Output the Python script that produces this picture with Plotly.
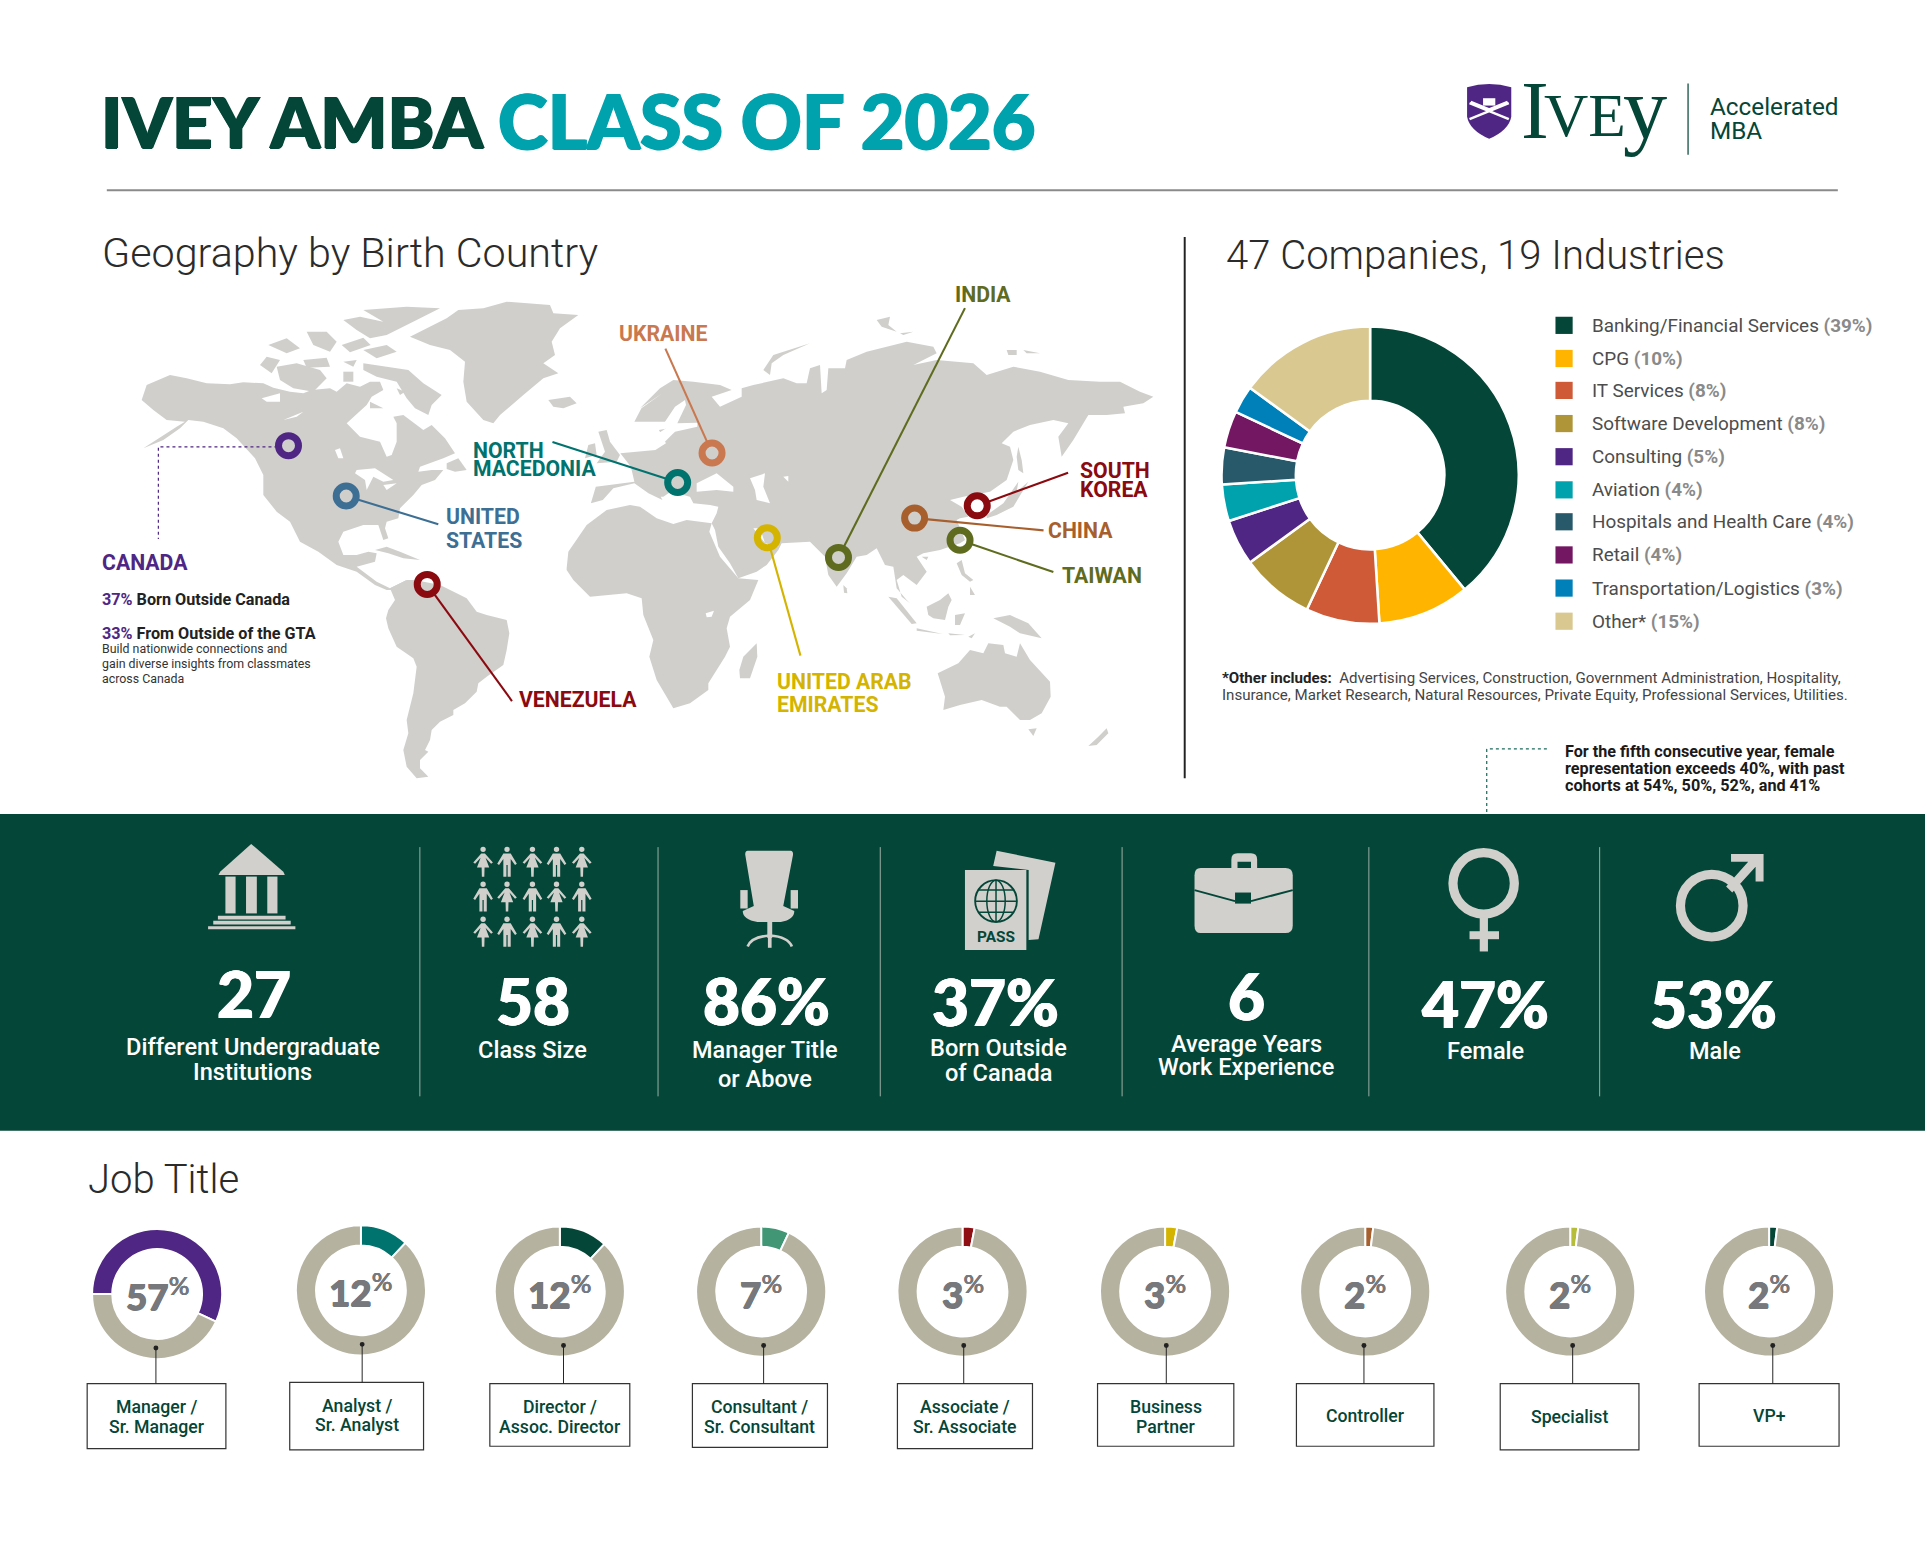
import plotly.graph_objects as go

# --- page is laid out in a 1568 x 1256 grid, scaled up to the real size ---
W, H = 1568, 1256
K = 1925 / 1568

GREEN = "#044637"
TEAL = "#00a3ad"
PURPLE = "#4f2683"
ICON = "#d1d0cc"
LAND = "#d0cfcc"

# --- DATA ---
industry_names = ["Banking/Financial Services", "CPG", "IT Services", "Software Development", "Consulting",
                  "Aviation", "Hospitals and Health Care", "Retail", "Transportation/Logistics", "Other*"]
industry_values = [39, 10, 8, 8, 5, 4, 4, 4, 3, 15]
industry_colors = ["#044637", "#ffb500", "#cf5a38", "#b09538", "#4f2683",
                   "#00a3ad", "#27596b", "#741763", "#0080b8", "#dac891"]

job_titles = [["Manager /", "Sr. Manager"], ["Analyst /", "Sr. Analyst"], ["Director /", "Assoc. Director"],
              ["Consultant /", "Sr. Consultant"], ["Associate /", "Sr. Associate"], ["Business", "Partner"],
              ["Controller"], ["Specialist"], ["VP+"]]
job_values = [57, 12, 12, 7, 3, 3, 2, 2, 2]
job_colors = ["#4f2683", "#00736e", "#044637", "#409675", "#8f0e14", "#d4b400", "#a85f2e", "#b5bd3a", "#044637"]
job_rest = "#b5b2a0"

stat_values = ["27", "58", "86%", "37%", "6", "47%", "53%"]
stat_labels = [["Different Undergraduate", "Institutions"], ["Class Size"], ["Manager Title", "or Above"],
               ["Born Outside", "of Canada"], ["Average Years", "Work Experience"], ["Female"], ["Male"]]

countries = ["CANADA", "UNITED STATES", "VENEZUELA", "NORTH MACEDONIA", "UKRAINE",
             "UNITED ARAB EMIRATES", "INDIA", "CHINA", "SOUTH KOREA", "TAIWAN"]
country_colors = ["#4f2683", "#3d6f94", "#8b0a10", "#00736e", "#c9784f",
                  "#d4b400", "#5f6b1e", "#a85f2e", "#8b0a10", "#5f6b1e"]


def crop(ox, oy, pts):
    return [((ox + a / 3) / K, (oy + b / 3) / K) for a, b in pts]


def za(pts):
    return crop(130, 295, pts)


def zb(pts):
    return crop(360, 560, pts)


def zc(pts):
    return crop(640, 300, pts)


def zd(pts):
    return crop(640, 500, pts)


def z1(pts):
    return [((80 + a / 1.425) / K, (280 + b / 3) / K) for a, b in pts]


north_america = za([(35,315),(50,270),(120,240),(170,250),(230,265),(300,268),(340,262),(400,265),(430,278),(480,290),(520,295),
                    (545,285),(600,280),(620,290),(650,265),(690,275),(720,260),(750,260),(760,285),(725,305),(710,330),(650,385),
                    (690,425),(750,440),(770,485),(785,480),(800,440),(800,385),(790,365),(820,360),(880,405),(905,390),(945,430),
                    (975,475),(940,490),(870,515),(865,530),(905,525),(940,525),(915,555),(875,570),(850,600),(810,640),(805,670),
                    (770,680),(765,700),(775,730),(760,735),(745,690),(700,690),(640,710),(625,740),(640,780),(680,780),(715,770),
                    (740,775),(735,800),(700,810),(680,815),(740,860),(780,880),(800,870),(830,855),(800,885),(770,885),(735,870),
                    (680,830),(620,810),(565,770),(510,740),(480,680),(440,650),(400,600),(400,540),(375,490),(320,430),(280,400),
                    (220,380),(175,375),(150,400),(100,435),(40,460),(100,420),(140,395),(165,380),(110,375),(70,345)])
baffin = za([(700,205),(770,215),(835,225),(880,265),(935,300),(905,330),(895,360),(855,340),(830,310),(800,260),(740,245),(700,225)])
banks = za([(390,210),(410,185),(450,195),(425,235)])
victoria = za([(440,215),(500,205),(570,225),(590,250),(550,290),(490,280),(450,255)])
king_william = za([(640,230),(670,230),(670,260),(640,260)])
melville = za([(415,150),(470,130),(510,160),(470,175)])
bathurst = za([(530,110),(590,110),(620,140),(600,170),(550,150)])
devon = za([(640,200),(680,195),(670,215)])
prince_wales = za([(520,195),(590,188),(600,215),(530,218)])
cornwallis = za([(635,150),(700,128),(722,150),(660,172)])
somerset = za([(700,165),(770,150),(800,170),(740,190)])
ellesmere = za([(640,75),(690,65),(760,80),(700,45),(830,35),(930,40),(860,75),(770,120),(720,130),(680,105)])
southampton = za([(720,320),(760,340),(720,340)])
coats = za([(800,280),(825,290),(810,300)])
newfoundland = za([(950,505),(985,490),(1010,525),(975,530),(950,522)])
greenland = za([(840,125),(950,70),(985,45),(1060,40),(1130,20),(1260,30),(1270,55),(1345,60),(1290,100),(1265,140),(1275,180),
                (1240,205),(1285,235),(1240,250),(1180,300),(1110,360),(1090,385),(1060,375),(1010,320),(1000,260),(1005,200),
                (960,165),(900,150)])
iceland = za([(1255,315),(1290,310),(1320,305),(1340,325),(1300,340),(1270,335)])
cuba = za([(735,765),(770,755),(810,770),(870,795),(820,790),(775,775)])
south_america = zb([(90,85),(140,60),(165,60),(240,75),(290,100),(320,115),(350,155),(380,165),(440,180),(448,220),(440,270),
                    (430,315),(380,350),(355,370),(350,395),(315,430),(280,450),(280,465),(240,485),(215,510),(210,540),(195,570),
                    (205,575),(180,600),(180,625),(205,650),(170,655),(140,620),(130,570),(145,520),(140,480),(160,400),(170,320),
                    (160,295),(110,260),(85,205),(78,175),(85,150),(105,120)])
africa = (za([(1310,820),(1315,770),(1370,690),(1430,645),(1500,630)])
          + zd([(0,20),(50,55),(100,72),(140,60),(215,70),(208,95),(240,170),(295,235),(355,240),(330,300),(270,350),(260,385),
                (270,440),(255,470),(205,550),(205,570),(150,610),(100,625),(85,600),(50,540),(28,470),(40,420)])
          + zb([(850,165),(845,115),(800,100),(690,110),(640,60),(620,30)]))
madagascar = zd([(350,430),(352,470),(330,535),(300,535),(298,510),(310,470)])
eurasia = (z1([(728,670),(735,620),(790,605),(785,560),(770,520),(820,510),(835,490),(825,450),(850,440),(835,425),(790,425),
               (800,385),(830,340)])
           + zc([(0,325),(60,265),(100,240),(160,245),(240,255),(275,270),(215,290),(240,320),(275,305),(305,290),(305,265),(340,255),
                 (430,235),(470,250),(500,250),(510,205),(540,195),(545,280),(560,270),(565,205),(615,205),(620,180),(680,155),(800,125),
                 (880,140),(890,160),(820,195),(890,180),(1000,190),(1040,225),(1120,200),(1200,215),(1285,240),(1380,245),(1440,245),
                 (1500,275),(1540,290),(1510,310),(1450,320),(1455,340),(1400,345),(1345,345),(1300,420),(1265,470),(1255,410),(1285,370),
                 (1240,360),(1170,375),(1120,395),(1085,430),(1110,440),(1120,480),(1100,540),(1050,575),(970,590),(930,600),(965,620),
                 (985,650),(960,655),(950,660),(975,720)])
           + zd([(960,130),(900,150),(850,160),(830,170),(860,215),(830,255),(790,225),(770,240),(785,290),(810,310),(800,300),(770,265),
                 (760,200),(735,195),(710,145),(680,165),(650,170),(620,220),(590,260),(565,225),(555,170),(510,125),(425,130),(415,150),
                 (380,195),(350,215),(295,235),(270,190),(235,140),(225,90),(215,70),(230,40),(235,20),(210,15)])
           + zc([(160,610),(150,590),(130,585),(100,570),(70,590),(50,590),(30,530)])
           + z1([(830,660),(810,640),(790,610),(760,625),(745,660)]))
britain = za([(1405,410),(1430,405),(1440,440),(1470,480),(1460,500),(1400,505),(1425,470)])
ireland = za([(1375,450),(1395,445),(1400,480),(1365,490)])
honshu = zc([(1130,575),(1165,545),(1120,620),(1070,645),(1040,655),(1040,645),(1090,610),(1135,545)])
sakhalin = zc([(1135,440),(1145,480),(1150,520),(1135,510),(1130,470)])
svalbard = zc([(710,60),(750,50),(745,75),(770,95),(725,80)])
svalbard_b = zc([(780,100),(820,95),(790,105)])
novaya = zc([(370,210),(400,165),(510,130),(430,165),(395,190),(390,225)])
siberia_a = zc([(1100,150),(1130,150),(1130,165),(1105,165)])
siberia_b = zc([(1150,150),(1200,160),(1160,160)])
sumatra = zd([(745,290),(770,295),(830,370),(815,372)])
java = zd([(830,385),(908,402),(830,392)])
lesser_sunda = zd([(925,400),(975,405),(930,406)])
borneo = zd([(860,320),(900,300),(925,280),(935,300),(925,320),(915,360),(880,355),(865,345)])
sulawesi = zd([(945,345),(975,340),(960,375),(945,375)])
luzon = zd([(950,190),(965,180),(975,220),(1000,240),(990,245),(965,225)])
mindanao = zd([(990,260),(1005,285),(990,285)])
new_guinea = zd([(1060,355),(1110,345),(1165,370),(1205,415),(1140,400),(1110,380)])
timor = zd([(985,410),(1005,400),(995,415)])
sri_lanka = zd([(610,255),(620,265),(622,280),(612,278)])
hainan = zd([(845,170),(865,170),(860,180)])
australia = zd([(893,520),(955,490),(990,450),(1030,460),(1045,430),(1090,435),(1095,460),(1130,470),(1140,430),(1170,480),(1230,545),
                (1232,590),(1205,640),(1170,660),(1140,660),(1100,620),(1080,620),(1025,600),(960,615),(910,630),(915,590)])
tasmania = zd([(1165,688),(1190,685),(1180,708)])
new_zealand = zd([(1400,685),(1405,700),(1370,735),(1345,738),(1375,710)])
land = [north_america, baffin, banks, victoria, king_william, melville, bathurst, devon, prince_wales, cornwallis, somerset, ellesmere,
        southampton, coats, newfoundland, greenland, iceland, cuba, south_america, africa, madagascar, eurasia, britain, ireland, honshu,
        sakhalin, svalbard, svalbard_b, novaya, siberia_a, siberia_b, sumatra, java, lesser_sunda, borneo, sulawesi, luzon, mindanao,
        new_guinea, timor, sri_lanka, hainan, australia, tasmania, new_zealand]
water = [za([(680,525),(735,520),(790,555),(760,560),(730,545),(710,585),(705,555),(675,535)]),
         za([(760,570),(800,565),(770,585)]), za([(615,465),(630,460),(640,490),(625,490)]),
         za([(395,310),(450,295),(450,320),(410,320)]), za([(460,375),(520,350),(500,365)]),
         zc([(170,550),(230,520),(280,560),(280,575),(230,570),(170,575)]),
         zc([(330,535),(375,520),(370,560),(390,610),(350,600),(345,570)]),
         zc([(75,365),(105,320),(135,300),(138,315),(112,370),(172,368),(172,380),(105,395),(70,430),(20,440),(25,420),(55,400),(78,385)]),
         zc([(430,530),(445,528),(445,545)]),
         zd([(340,85),(360,85),(375,130),(420,140),(380,135)]), zd([(197,340),(222,332),(215,350),(200,352)])]

fig = go.Figure()
shapes = []
notes = []


def text(x, y, s, size, color="#333333", weight=400, family="Roboto", anchor="left", fat=0):
    font = dict(size=size * K, color=color, family=family, weight=weight)
    if fat:
        font["shadow"] = f"{fat}px 0 0 {color}, -{fat}px 0 0 {color}, 0 {fat / 2}px 0 {color}"
    notes.append(dict(x=x, y=y, xref="x", yref="y", text=s, showarrow=False, xanchor=anchor, yanchor="middle",
                      align=anchor, font=font, borderpad=0, borderwidth=0))


def rect(x0, y0, x1, y1, fill, layer="below", line=None, lw=0):
    shapes.append(dict(type="rect", x0=x0, y0=y0, x1=x1, y1=y1, xref="x", yref="y", fillcolor=fill, layer=layer,
                       line=dict(color=line or fill, width=lw)))


def line(x0, y0, x1, y1, color, width=1, dash="solid", layer="below"):
    shapes.append(dict(type="line", x0=x0, y0=y0, x1=x1, y1=y1, xref="x", yref="y", layer=layer,
                       line=dict(color=color, width=width * K, dash=dash)))


def path(d, fill=ICON, layer="below", stroke=None, lw=0):
    shapes.append(dict(type="path", path=d, xref="x", yref="y", fillcolor=fill, layer=layer,
                       line=dict(color=stroke or fill, width=lw * K)))


def poly(pts, fill=ICON, layer="below"):
    path("M " + " L ".join(f"{a},{b}" for a, b in pts) + " Z", fill, layer)


def circle(cx, cy, r, fill="rgba(0,0,0,0)", stroke=ICON, lw=0, layer="below", ry=None):
    ry = ry or r
    shapes.append(dict(type="circle", x0=cx - r, x1=cx + r, y0=cy - ry, y1=cy + ry, xref="x", yref="y", layer=layer,
                       fillcolor=fill, line=dict(color=stroke, width=lw * K)))


# --- header ---
text(82, 98, "IVEY AMBA", 57.6, GREEN, 900, "Lato", fat=1)
text(406, 98, "CLASS OF 2026", 61.4, TEAL, 900, "Lato", fat=1)
line(87, 155, 1497, 155, "#8a8a8a", 1.6)

# logo
path("M 1195,71 Q 1213,66 1231,71 L 1231,95 Q 1229,106 1213,113 Q 1197,106 1195,95 Z", PURPLE)
path("M 1198,83 L 1213,89 L 1228,83 M 1197,97 L 1229,84 M 1197,84 L 1229,97", "rgba(0,0,0,0)", stroke="#ffffff", lw=2)
rect(1208, 80, 1218, 86, "#ffffff")
text(1239, 90, "I", 68, GREEN, 400, "Liberation Serif")
text(1258, 94, "VE", 50, GREEN, 400, "Liberation Serif")
text(1322, 88, "y", 72, GREEN, 400, "Liberation Serif")
line(1375, 68, 1375, 126, GREEN, 1)
text(1393, 87, "Accelerated", 19.8, GREEN, 400, "Roboto")
text(1393, 106, "MBA", 19.8, GREEN, 400, "Roboto")

# --- map ---
text(83, 206, "Geography by Birth Country", 33.6, "#2b2b2b", 300, "Roboto")
for part, col in [(p, LAND) for p in land] + [(p, "#ffffff") for p in water]:
    xs = [p[0] for p in part] + [part[0][0]]
    ys = [p[1] for p in part] + [part[0][1]]
    fig.add_trace(go.Scatter(x=xs, y=ys, mode="lines", fill="toself", fillcolor=col,
                             line=dict(width=0, color=col), hoverinfo="skip", showlegend=False))

pin_x = [235, 282, 348, 552, 580, 625, 683, 745, 796, 782]
pin_y = [363, 404, 476, 393, 369, 438, 454, 422, 412, 440]
leader_ends = [None, (357, 427), (417, 571), (450, 360), (542, 284), (652, 534), (786, 251), (850, 432), (870, 385), (858, 466)]
for i in range(1, len(countries)):
    dx, dy = leader_ends[i][0] - pin_x[i], leader_ends[i][1] - pin_y[i]
    dist = (dx * dx + dy * dy) ** 0.5
    fig.add_trace(go.Scatter(x=[pin_x[i] + dx / dist * 9, leader_ends[i][0]], y=[pin_y[i] + dy / dist * 9, leader_ends[i][1]], mode="lines",
                             line=dict(color=country_colors[i], width=1.7 * K), hoverinfo="skip", showlegend=False))
fig.add_trace(go.Scatter(x=[226, 129, 129], y=[364, 364, 439], mode="lines", line=dict(color=PURPLE, width=1.2, dash="dot"),
                         hoverinfo="skip", showlegend=False))
fig.add_trace(go.Scatter(x=pin_x, y=pin_y, mode="markers", hoverinfo="skip", showlegend=False,
                         marker=dict(size=20, color="rgba(0,0,0,0)", line=dict(color=country_colors, width=7))))

label_spots = [[(83, 458)], [(363, 421), (363, 440)], [(423, 570)], [(385, 367), (385, 382)], [(504, 272)],
               [(633, 555), (633, 574)], [(778, 240)], [(854, 432)], [(880, 383), (880, 399)], [(865, 469)]]
label_lines = [["CANADA"], ["UNITED", "STATES"], ["VENEZUELA"], ["NORTH", "MACEDONIA"], ["UKRAINE"],
               ["UNITED ARAB", "EMIRATES"], ["INDIA"], ["CHINA"], ["SOUTH", "KOREA"], ["TAIWAN"]]
for i, spots in enumerate(label_spots):
    for (lx, ly), s in zip(spots, label_lines[i]):
        text(lx, ly, s, 17.3, country_colors[i], 700, "Roboto")

text(83, 488, f"<span style='color:{PURPLE}'>37%</span> Born Outside Canada", 13.2, "#222222", 700)
text(83, 516, f"<span style='color:{PURPLE}'>33%</span> From Outside of the GTA", 13.2, "#222222", 700)
for yy, s in zip([529, 541, 553], ["Build nationwide connections and", "gain diverse insights from classmates", "across Canada"]):
    text(83, yy, s, 10.1, "#333333", 400)

line(965, 193, 965, 634, "#222222", 1.6)

# --- industries ---
text(999, 208, "47 Companies, 19 Industries", 32.6, "#2b2b2b", 300, "Roboto")
CX, CY, R = 1116, 387, 121
fig.add_trace(go.Pie(values=industry_values, labels=industry_names, marker=dict(colors=industry_colors, line=dict(color="#ffffff", width=2.5)),
                     hole=0.5, sort=False, direction="clockwise", rotation=0, textinfo="none", hoverinfo="skip",
                     showlegend=False, domain=dict(x=[(CX - R) / W, (CX + R) / W], y=[1 - (CY + R) / H, 1 - (CY - R) / H])))
legend_y = [265, 292, 318, 345, 372, 399, 425, 452, 479, 506]
for name, val, col, yy in zip(industry_names, industry_values, industry_colors, legend_y):
    rect(1267, yy - 7, 1281, yy + 7, col)
    text(1297, yy, f"{name} <b style='color:#8a8a8a'>({val}%)</b>", 15.4, "#4d4d4d", 400)
text(995, 552, "<b style='color:#222222'>*Other includes:</b>  Advertising Services, Construction, Government Administration, Hospitality,", 12.3, "#444444", 400)
text(995, 566, "Insurance, Market Research, Natural Resources, Private Equity, Professional Services, Utilities.", 12.3, "#444444", 400)

# female note
line(1260, 610, 1211, 610, "#1d6b5c", 1, "dot")
line(1211, 610, 1211, 663, "#1d6b5c", 1, "dot")
for yy, s in zip([612, 626, 640], ["For the fifth consecutive year, female", "representation exceeds 40%, with past", "cohorts at 54%, 50%, 52%, and 41%"]):
    text(1275, yy, s, 13.2, "#1a1a1a", 700)

# --- stats band ---
rect(0, 663, W, 921, GREEN)
for sx in [342, 536, 717, 914, 1115, 1303]:
    line(sx, 690, sx, 893, "#9fb0a8", 0.8)
num_spots = [(207, 809), (434, 815), (624, 815), (811, 816), (1015, 811), (1210, 817), (1396, 817)]
lab_spots = [[(206, 853), (206, 873)], [(434, 855)], [(623, 855), (623, 879)], [(813, 854), (813, 874)],
             [(1015, 850), (1015, 869)], [(1210, 856)], [(1397, 856)]]
for val, (nx, ny), labs, spots in zip(stat_values, num_spots, stat_labels, lab_spots):
    text(nx, ny, val, 52, "#ffffff", 900, "Lato", "center", fat=0.8)
    for s, (lx, ly) in zip(labs, spots):
        text(lx, ly, s, 19.2, "#ffffff", 500, "Roboto", "center")

# building icon
poly([(204.6, 687.4), (230.8, 710), (232, 712.7), (178, 712.7), (179.3, 710)])
for a, b in [(183.6, 191.9), (200.4, 209.2), (217.7, 226)]:
    rect(a, 714, b, 744, ICON)
rect(177.5, 746, 232.6, 749, ICON)
rect(173.7, 750, 236.8, 753, ICON)
rect(169.5, 754.5, 240.6, 757, ICON)


# people grid
def person(cx, top, female):
    circle(cx, top + 2.2, 2.2, ICON, ICON)
    t = top
    if female:
        poly([(cx - 1.5, t + 5.5), (cx + 1.5, t + 5.5), (cx + 8, t + 13), (cx + 6.5, t + 14), (cx + 2, t + 9), (cx + 5, t + 17),
              (cx + 1.2, t + 17), (cx + 1, t + 24.5), (cx - 1, t + 24.5), (cx - 1.2, t + 17), (cx - 5, t + 17), (cx - 2, t + 9),
              (cx - 6.5, t + 14), (cx - 8, t + 13)])
    else:
        poly([(cx - 3, t + 5.5), (cx + 3, t + 5.5), (cx + 8, t + 14), (cx + 6.5, t + 15), (cx + 3, t + 10), (cx + 3, t + 24.5),
              (cx + 0.5, t + 24.5), (cx + 0.5, t + 15), (cx - 0.5, t + 15), (cx - 0.5, t + 24.5), (cx - 3, t + 24.5), (cx - 3, t + 10),
              (cx - 6.5, t + 15), (cx - 8, t + 14)])


for r, top in enumerate([689.6, 718, 746.6]):
    for c, cx in enumerate([393.5, 413, 433.7, 453.3, 473.9]):
        person(cx, top, (r + c) % 2 == 0)

# chair
path("M 609,693 L 644,693 Q 646,693 646,696 L 638,738 L 647,742 Q 647,749 636,751 L 617,751 Q 605,749 605,742 L 614,738 L 607,696 Q 607,693 609,693 Z")
rect(603, 725, 609, 740, ICON)
rect(644, 725, 650, 740, ICON)
rect(625, 751, 629, 764, ICON)
path("M 609,771 Q 612,763 627,762 Q 642,763 645,771", "rgba(0,0,0,0)", stroke=ICON, lw=2.2)
rect(625.5, 762, 628.5, 772, ICON)

# passport
poly([(811.8, 692.9), (859.7, 702.7), (845.9, 765.1), (837.9, 765.6), (837.9, 708.6), (809, 705.4)])
rect(786, 708.6, 836, 773.8, ICON)
circle(811.3, 733.9, 17, "rgba(0,0,0,0)", GREEN, 1.5)
circle(811.3, 733.9, 7.5, "rgba(0,0,0,0)", GREEN, 1.2, ry=17)
line(811.3, 717, 811.3, 751, GREEN, 1.2)
for gy, half in [(725, 14), (734, 17), (743, 14)]:
    line(811.3 - half, gy, 811.3 + half, gy, GREEN, 1.2)
text(811, 763, "PASS", 12.5, GREEN, 700, "Roboto", "center")

# briefcase
path("M 1003,707 L 1003,700 Q 1003,695 1008,695 L 1019,695 Q 1024,695 1024,700 L 1024,707 L 1019,707 L 1019,702 L 1008,702 L 1008,707 Z")
path("M 978,707 L 1047,707 Q 1053,707 1053,713 L 1053,754 Q 1053,760 1047,760 L 978,760 Q 973,760 973,754 L 973,713 Q 973,707 978,707 Z")
path("M 973,725 L 1006,734 M 1019,734 L 1053,725", "rgba(0,0,0,0)", stroke=GREEN, lw=1.6)
rect(1006, 727, 1019, 736, GREEN)

# female / male signs
circle(1208.5, 719.5, 25, "rgba(0,0,0,0)", ICON, 7.5)
rect(1205.3, 747, 1212, 775, ICON)
rect(1197, 758.5, 1221, 765, ICON)
circle(1394.3, 737.7, 25.5, "rgba(0,0,0,0)", ICON, 7.5)
poly([(1410, 695.6), (1436.5, 695.6), (1436.5, 718), (1430, 718), (1430, 706), (1411, 727), (1406, 722), (1424, 702), (1410, 702)])

# --- job title ---
text(72, 961, "Job Title", 32.6, "#2b2b2b", 300, "Roboto")
job_cx = [128, 294, 456, 620, 784, 949, 1112, 1279, 1441]
job_cy = [1054, 1051, 1052, 1052, 1052, 1052, 1052, 1052, 1052]
box_x = [(71, 184), (236, 345), (399, 513), (564, 674), (731, 841), (894, 1005), (1056, 1168), (1222, 1335), (1384, 1498)]
box_y = [(1127, 1180), (1126, 1181), (1127, 1178), (1127, 1179), (1127, 1180), (1127, 1178), (1127, 1178), (1127, 1181), (1127, 1178)]
line_x = [127, 295, 459, 622, 785, 950, 1111, 1281, 1444]
JR = 53
for i, val in enumerate(job_values):
    cx, cy = job_cx[i], job_cy[i]
    fig.add_trace(go.Pie(values=[val, 100 - val], marker=dict(colors=[job_colors[i], job_rest], line=dict(color="#ffffff", width=2)),
                         hole=0.69, sort=False, direction="clockwise", rotation=270 if i == 0 else 0, textinfo="none",
                         hoverinfo="skip", showlegend=False,
                         domain=dict(x=[(cx - JR) / W, (cx + JR) / W], y=[1 - (cy + JR) / H, 1 - (cy - JR) / H])))
    text(cx, cy, f"{val}<sup><span style='font-weight:400'>%</span></sup>", 30, "#77787b", 900, "Lato", "center", fat=0.5)
    line(line_x[i], cy + 44, line_x[i], box_y[i][0], "#222222", 0.8, layer="above")
    circle(line_x[i], cy + 44, 2, "#222222", "#222222", layer="above")
    rect(box_x[i][0], box_y[i][0], box_x[i][1], box_y[i][1], "#ffffff", line="#333333", lw=1.2)
    mid = (box_x[i][0] + box_x[i][1]) / 2
    rows = job_titles[i]
    ys = [box_y[i][0] + 19, box_y[i][0] + 35] if len(rows) == 2 else [(box_y[i][0] + box_y[i][1]) / 2 + 0.5]
    for s, yy in zip(rows, ys):
        text(mid, yy, s, 14.4, GREEN, 500, "Roboto", "center")

fig.update_layout(width=1925, height=1542, margin=dict(l=0, r=0, t=0, b=0), paper_bgcolor="#ffffff", plot_bgcolor="#ffffff",
                  showlegend=False, shapes=shapes, annotations=notes,
                  xaxis=dict(range=[0, W], visible=False, fixedrange=True, domain=[0, 1]),
                  yaxis=dict(range=[H, 0], visible=False, fixedrange=True, domain=[0, 1]))

fig.write_html("out.html", config={"displayModeBar": False}, post_script="document.body.style.margin='0';")
